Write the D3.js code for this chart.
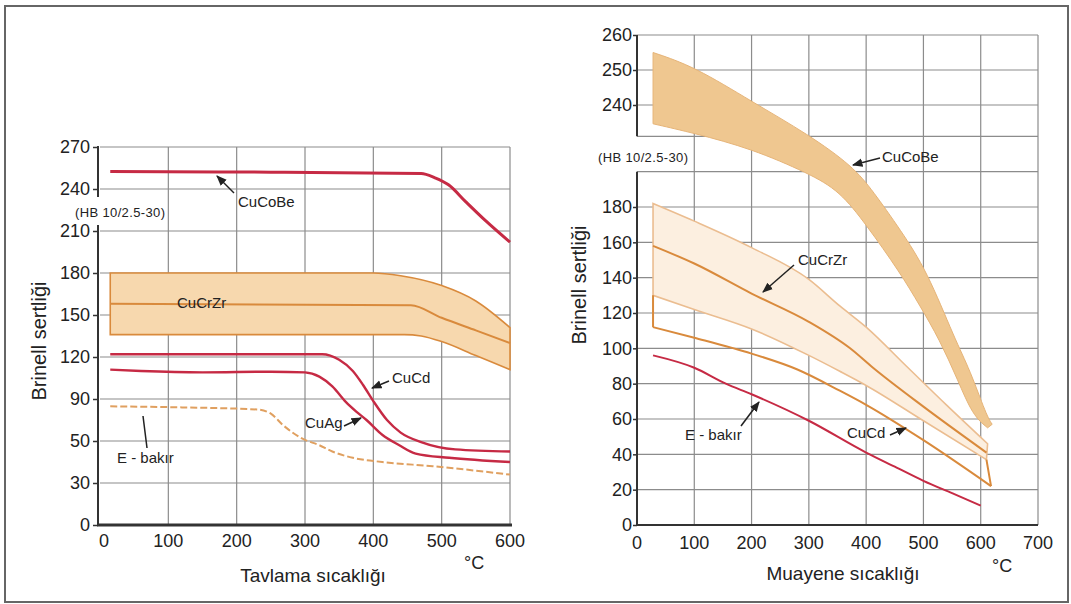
<!DOCTYPE html>
<html><head><meta charset="utf-8">
<script src="https://cdn.jsdelivr.net/npm/d3@7"></script>
<style>
body{margin:0;background:#fff}
text{font-family:"Liberation Sans",Arial,Helvetica,sans-serif;fill:#222}
</style>
</head><body>
<svg id="c" width="1071" height="604"></svg>
<script>
// ---------- DATA ----------
// Left chart: annealing temperature (Tavlama sıcaklığı)
const leftYTicks = [0, 30, 50, 90, 120, 150, 180, 210, 240, 270];
const leftXTicks = [0, 100, 200, 300, 400, 500, 600];
const L_CuCoBe = [[15,252.5],[250,252],[470,251],[490,248],[510,243],[535,231],[565,217],[600,202]];
const L_CuCrZr_hi = [[15,180],[400,180],[440,178],[500,171],[550,160],[600,141]];
const L_CuCrZr_mid = [[15,158],[455,157],[500,148],[550,139],[600,130]];
const L_CuCrZr_lo = [[15,136],[445,136],[470,135],[500,131],[550,121],[600,111]];
const L_CuCd = [[15,122],[200,122],[325,122],[350,118],[370,110],[385,100],[400,88],[420,70],[440,58],[470,49.5],[520,46],[600,45]];
const L_CuAg = [[15,111],[60,110],[150,109],[250,109.5],[300,109],[321,106],[340,99],[360,87],[375,78],[390,70],[413,56],[438,48],[462,44],[511,42],[600,40]];
const L_Ebakir = [[15,83],[120,82],[230,80],[250,76],[268,65],[297,52],[321,48],[340,45],[370,42],[413,40],[487,38],[600,34]];

// Right chart: test temperature (Muayene sıcaklığı)
const rightYTicks = [0, 20, 40, 60, 80, 100, 120, 140, 160, 180, 240, 250, 260];
const rightYGrid = [0, 20, 40, 60, 80, 100, 120, 140, 160, 180, 200, 220, 240, 250, 260];
const rightXTicks = [0, 100, 200, 300, 400, 500, 600, 700];
const R_CuCoBe_hi = [[28,255],[100,251],[200,241],[300,221],[377,203],[412,189],[460,167],[506,144],[555,105],[581,88],[610,62],[620,57]];
const R_CuCoBe_lo = [[28,228],[100,222],[200,213],[300,199],[354,189],[400,170],[459,143],[494,124],[528,105],[560,82],[586,62],[612,55]];
const R_CuCrZr_hi = [[28,182],[100,172],[200,157],[300,139],[354,124],[400,112],[470,90],[540,68],[612,46]];
const R_CuCrZr_mid = [[28,158],[100,148],[200,131],[300,115],[372,100],[412,89],[500,67],[610,41]];
const R_CuCrZr_lo = [[28,130],[100,122],[200,111],[300,96],[354,87],[400,79],[500,59],[610,37]];
const R_CuCd_lo = [[28,112],[100,106],[200,97],[280,88],[354,76],[400,68],[500,48],[618,22]];
const R_Ebakir = [[28,96],[100,89],[155,80],[200,74],[300,59],[400,41],[450,33],[500,25],[550,18],[600,11]];

// ---------- STYLE ----------
const RED = "#c62a44", ORANGE = "#d98a3c", LIGHT = "#ebbd90";
const GRID = "#8c8c8c", AXIS = "#333";

const svg = d3.select("#c");
svg.append("rect").attr("x",5).attr("y",6).attr("width",1063).attr("height",596)
  .attr("fill","none").attr("stroke","#666").attr("stroke-width",2);

const defs = svg.append("defs");
defs.append("marker").attr("id","arr").attr("viewBox","0 0 10 10").attr("refX",9).attr("refY",5)
  .attr("markerWidth",7).attr("markerHeight",7).attr("orient","auto")
  .append("path").attr("d","M0,1 L10,5 L0,9 Z").attr("fill","#222");

function bandPath(line, hi, lo) {
  const a = line(hi);
  const b = line(lo.slice().reverse());
  return a + "L" + b.slice(1) + "Z";
}

// ---------- LEFT CHART ----------
const lx = d3.scaleLinear().domain([0,600]).range([100,510]);
const ly = d3.scaleLinear().domain(leftYTicks).range(leftYTicks.map((d,i)=>525 - i*42));
const lLine = d3.line().x(d=>lx(d[0])).y(d=>ly(d[1])).curve(d3.curveMonotoneX);
const gl = svg.append("g");

gl.selectAll(".hg").data(leftYTicks.filter(d=>d>0)).join("line")
  .attr("x1",lx(0)).attr("x2",lx(600)).attr("y1",d=>ly(d)).attr("y2",d=>ly(d))
  .attr("stroke",GRID).attr("stroke-width",1.2);
gl.selectAll(".vg").data(leftXTicks.filter(d=>d>0)).join("line")
  .attr("x1",d=>lx(d)).attr("x2",d=>lx(d)).attr("y1",ly(270)).attr("y2",ly(0))
  .attr("stroke",GRID).attr("stroke-width",1.2);

gl.append("path").attr("d",bandPath(lLine,L_CuCrZr_hi,L_CuCrZr_lo))
  .attr("fill","#f7d8ae").attr("stroke",ORANGE).attr("stroke-width",1.6);
gl.append("path").attr("d",lLine(L_CuCrZr_mid)).attr("fill","none").attr("stroke",ORANGE).attr("stroke-width",2);
gl.append("path").attr("d",lLine(L_CuCoBe)).attr("fill","none").attr("stroke",RED).attr("stroke-width",3);
[L_CuCd,L_CuAg].forEach(s=>gl.append("path").attr("d",lLine(s)).attr("fill","none").attr("stroke",RED).attr("stroke-width",2.4));
gl.append("path").attr("d",lLine(L_Ebakir)).attr("fill","none").attr("stroke","#e0a060")
  .attr("stroke-width",2).attr("stroke-dasharray","7,3");

const lAxis = d3.axisLeft(ly).tickValues(leftYTicks).tickSize(5).tickFormat(d3.format("d"));
const la = gl.append("g").attr("transform",`translate(${lx(0)-2},0)`).call(lAxis);
la.select(".domain").remove();
la.selectAll("line").attr("stroke",AXIS).attr("stroke-width",1.5);
la.selectAll("text").attr("font-size",18).attr("x",-8).style("fill","#222").attr("font-family","Liberation Sans, Arial, sans-serif");
gl.append("line").attr("x1",lx(0)-2).attr("x2",lx(0)-2).attr("y1",ly(270)-1).attr("y2",ly(240)+8).attr("stroke",AXIS).attr("stroke-width",2);
gl.append("line").attr("x1",lx(0)-2).attr("x2",lx(0)-2).attr("y1",ly(210)-6).attr("y2",ly(0)).attr("stroke",AXIS).attr("stroke-width",2);
gl.append("line").attr("x1",lx(0)-3).attr("x2",lx(600)+2).attr("y1",ly(0)).attr("y2",ly(0)).attr("stroke",AXIS).attr("stroke-width",3);
gl.selectAll(".xl").data(leftXTicks).join("text")
  .attr("x",d=>lx(d)+ (d===0?4:0)).attr("y",547).attr("text-anchor","middle").attr("font-size",18).text(d=>d);

gl.append("text").attr("x",75).attr("y",217).attr("font-size",13).attr("textLength",90).text("(HB 10/2.5-30)");
gl.append("text").attr("x",238).attr("y",207).attr("font-size",15).text("CuCoBe");
gl.append("line").attr("x1",234).attr("y1",193).attr("x2",217).attr("y2",176).attr("stroke","#222").attr("stroke-width",1.5).attr("marker-end","url(#arr)");
gl.append("text").attr("x",177).attr("y",308).attr("font-size",15).text("CuCrZr");
gl.append("text").attr("x",392).attr("y",383).attr("font-size",15).text("CuCd");
gl.append("line").attr("x1",389).attr("y1",381).attr("x2",372).attr("y2",388).attr("stroke","#222").attr("stroke-width",1.5).attr("marker-end","url(#arr)");
gl.append("text").attr("x",305).attr("y",428).attr("font-size",15).text("CuAg");
gl.append("line").attr("x1",344).attr("y1",426).attr("x2",361).attr("y2",418).attr("stroke","#222").attr("stroke-width",1.5).attr("marker-end","url(#arr)");
gl.append("text").attr("x",117).attr("y",463).attr("font-size",15).text("E - bakır");
gl.append("line").attr("x1",147).attr("y1",448).attr("x2",143).attr("y2",416).attr("stroke","#222").attr("stroke-width",1.5);

gl.append("text").attr("transform","translate(46,341) rotate(-90)").attr("text-anchor","middle").attr("font-size",20).text("Brinell sertliği");
gl.append("text").attr("x",313).attr("y",582).attr("text-anchor","middle").attr("font-size",19).text("Tavlama sıcaklığı");
gl.append("text").attr("x",464).attr("y",569).attr("font-size",18).text("°C");

// ---------- RIGHT CHART ----------
const rx = d3.scaleLinear().domain([0,700]).range([637,1038]);
const ry = d3.scaleLinear().domain([0,220,240,260]).range([525, 525-220*1.7667, 105, 35]);
const rLine = d3.line().x(d=>rx(d[0])).y(d=>ry(d[1])).curve(d3.curveMonotoneX);
const rSmooth = d3.line().x(d=>rx(d[0])).y(d=>ry(d[1])).curve(d3.curveBasis);
const gr = svg.append("g");

gr.selectAll(".hg").data(rightYGrid.filter(d=>d>0)).join("line")
  .attr("x1",rx(0)).attr("x2",rx(700)).attr("y1",d=>ry(d)).attr("y2",d=>ry(d))
  .attr("stroke",GRID).attr("stroke-width",1.2);
gr.selectAll(".vg").data(rightXTicks.filter(d=>d>0)).join("line")
  .attr("x1",d=>rx(d)).attr("x2",d=>rx(d)).attr("y1",ry(260)).attr("y2",ry(0))
  .attr("stroke",GRID).attr("stroke-width",1.2);

gr.append("path").attr("d",bandPath(rLine,R_CuCrZr_hi,R_CuCrZr_lo))
  .attr("fill","#fcefe0").attr("stroke",LIGHT).attr("stroke-width",1.6);
gr.append("path").attr("d",rLine(R_CuCrZr_mid)).attr("fill","none").attr("stroke",ORANGE).attr("stroke-width",2);
gr.append("path").attr("d",rLine(R_CuCd_lo)).attr("fill","none").attr("stroke",ORANGE).attr("stroke-width",2);
const c0 = R_CuCrZr_lo[0], d0 = R_CuCd_lo[0];
const c1 = R_CuCrZr_lo[R_CuCrZr_lo.length-1], d1 = R_CuCd_lo[R_CuCd_lo.length-1];
gr.append("path").attr("d",`M${rx(c0[0])},${ry(c0[1])}L${rx(d0[0])},${ry(d0[1])}M${rx(c1[0])},${ry(c1[1])}L${rx(d1[0])},${ry(d1[1])}`)
  .attr("fill","none").attr("stroke",ORANGE).attr("stroke-width",2);
gr.append("path").attr("d",bandPath(rSmooth,R_CuCoBe_hi,R_CuCoBe_lo))
  .attr("fill","#efc790").attr("stroke","#e6b478").attr("stroke-width",1);
gr.append("path").attr("d",rLine(R_Ebakir)).attr("fill","none").attr("stroke",RED).attr("stroke-width",2);

const rAxis = d3.axisLeft(ry).tickValues(rightYTicks).tickSize(4).tickFormat(d3.format("d"));
const ra = gr.append("g").attr("transform",`translate(${rx(0)},0)`).call(rAxis);
ra.select(".domain").remove();
ra.selectAll("line").attr("stroke",AXIS).attr("stroke-width",1.5);
ra.selectAll("text").attr("font-size",18).attr("x",-5).style("fill","#222").attr("font-family","Liberation Sans, Arial, sans-serif");
gr.append("line").attr("x1",rx(0)).attr("x2",rx(0)).attr("y1",ry(260)).attr("y2",ry(220)).attr("stroke",AXIS).attr("stroke-width",2);
gr.append("line").attr("x1",rx(0)).attr("x2",rx(0)).attr("y1",ry(200)).attr("y2",ry(0)).attr("stroke",AXIS).attr("stroke-width",2);
gr.append("line").attr("x1",rx(0)-1).attr("x2",rx(700)).attr("y1",ry(0)).attr("y2",ry(0)).attr("stroke",AXIS).attr("stroke-width",2);
gr.selectAll(".xl").data(rightXTicks).join("text")
  .attr("x",d=>rx(d)).attr("y",549).attr("text-anchor","middle").attr("font-size",18).text(d=>d);

gr.append("text").attr("x",598).attr("y",162).attr("font-size",13).attr("textLength",90).text("(HB 10/2.5-30)");
gr.append("text").attr("x",882).attr("y",162).attr("font-size",15).text("CuCoBe");
gr.append("line").attr("x1",880).attr("y1",158).attr("x2",853).attr("y2",165).attr("stroke","#222").attr("stroke-width",1.5).attr("marker-end","url(#arr)");
gr.append("text").attr("x",798).attr("y",265).attr("font-size",15).text("CuCrZr");
gr.append("line").attr("x1",794).attr("y1",265).attr("x2",763).attr("y2",292).attr("stroke","#222").attr("stroke-width",1.5).attr("marker-end","url(#arr)");
gr.append("text").attr("x",685).attr("y",440).attr("font-size",15).text("E - bakır");
gr.append("line").attr("x1",741).attr("y1",426).attr("x2",759).attr("y2",402).attr("stroke","#222").attr("stroke-width",1.5).attr("marker-end","url(#arr)");
gr.append("text").attr("x",847).attr("y",438).attr("font-size",15).text("CuCd");
gr.append("line").attr("x1",890).attr("y1",435).attr("x2",906).attr("y2",428).attr("stroke","#222").attr("stroke-width",1.5).attr("marker-end","url(#arr)");

gr.append("text").attr("transform","translate(586,285) rotate(-90)").attr("text-anchor","middle").attr("font-size",20).text("Brinell sertliği");
gr.append("text").attr("x",843).attr("y",580).attr("text-anchor","middle").attr("font-size",19).text("Muayene sıcaklığı");
gr.append("text").attr("x",992).attr("y",572).attr("font-size",18).text("°C");
</script>
</body></html>
